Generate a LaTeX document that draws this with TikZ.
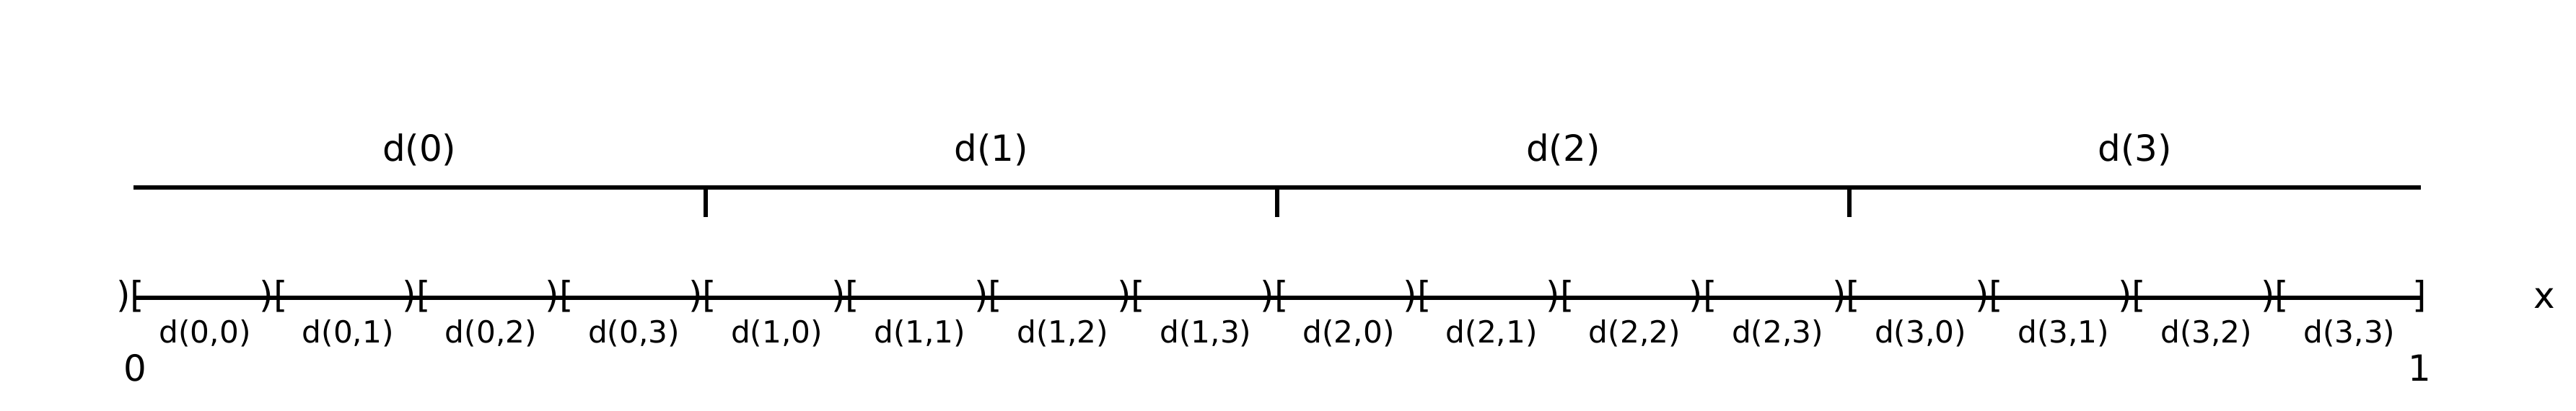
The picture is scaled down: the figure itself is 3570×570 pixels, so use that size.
\documentclass[tikz,border=0pt]{standalone}
\usepackage{fontspec}
\setmainfont{DejaVu Sans}
\begin{document}
\begin{tikzpicture}[x=0.01cm,y=-0.01cm,
  axisline/.style={line width=1.7pt},
  big/.style={font=\fontsize{14.2}{16}\selectfont, inner sep=0pt, anchor=base},
  small/.style={font=\fontsize{12}{14}\selectfont, inner sep=0pt, anchor=base}]
\useasboundingbox (0,0) rectangle (3570,570);
% top line with ticks
\foreach \j in {0,...,4} \coordinate (T\j) at ({185+\j*792.5},260);
\draw[axisline] (T0) -- (T4);
\foreach \j in {1,2,3} {
  \coordinate (K\j) at ({185+\j*792.5},301);
  \draw[axisline] (T\j) -- (K\j);
}
\foreach \j in {0,...,3}
  \node[big] (L\j) at ({185+(\j+0.5)*792.5},223) {d(\j)};
% bottom line
\foreach \i in {0,...,16} \coordinate (B\i) at ({185+\i*198.125},413);
\draw[axisline] (B0) -- (B16);
\foreach \i in {0,...,15}
  \node[big] (br\i) at ({181+\i*198.125},426) {)[};
\node[big] (brEnd) at (3353,426) {]};
\foreach \a in {0,...,3}
  \foreach \b in {0,...,3}
    \node[small] (s\a\b) at ({185+(4*\a+\b+0.5)*198.125},475) {d(\a,\b)};
\node[big] (zero) at (187,528) {0};
\node[big] (one) at (3353,528) {1};
\node[big] (xlab) at (3526,427) {x};
\end{tikzpicture}
\end{document}
